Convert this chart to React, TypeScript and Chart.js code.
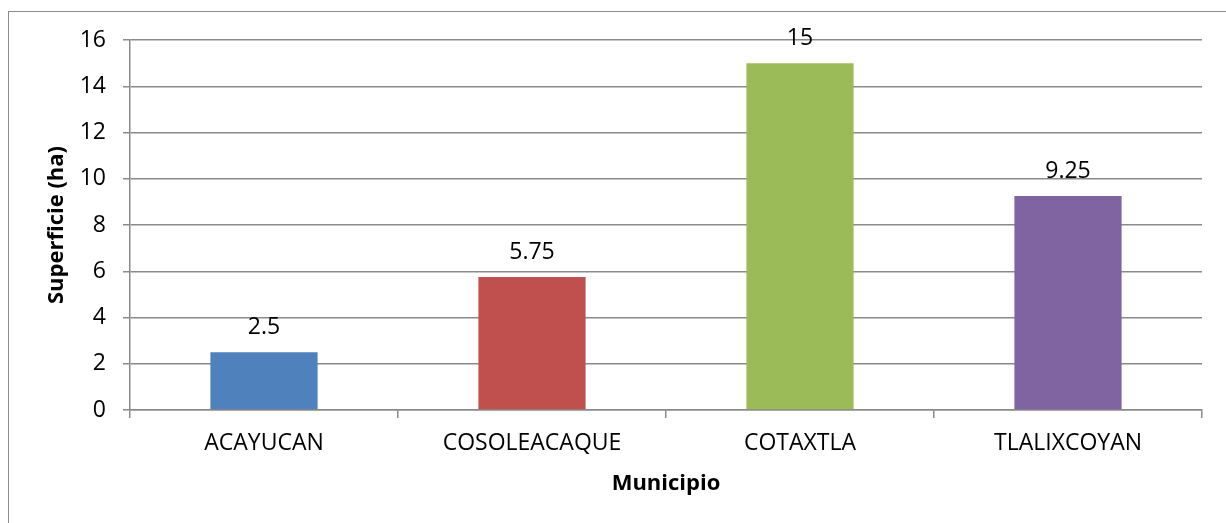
import React, { useEffect, useRef } from "react";
import { Chart, registerables } from "chart.js";

Chart.register(...registerables);

const categories = ["ACAYUCAN", "COSOLEACAQUE", "COTAXTLA", "TLALIXCOYAN"];
const values = [2.5, 5.75, 15, 9.25];
const barColors = ["#4F81BD", "#C0504D", "#9BBB59", "#8064A2"];
const yTitle = "Superficie (ha)";
const xTitle = "Municipio";
const yMin = 0;
const yMax = 16;
const yStep = 2;

const FONT = "'Open Sans', 'DejaVu Sans', sans-serif";
const GRID = "#8a8a8a";

const framePlugin = {
  id: "frame",
  beforeDraw(chart: any) {
    const ctx = chart.ctx;
    ctx.save();
    ctx.fillStyle = "#ffffff";
    ctx.fillRect(0, 0, chart.width, chart.height);
    ctx.strokeStyle = "#8c8c8c";
    ctx.lineWidth = 1;
    ctx.strokeRect(8.5, 11.5, chart.width + 20, chart.height + 20);
    ctx.restore();
  },
};

const valueLabelPlugin = {
  id: "valueLabels",
  afterDatasetsDraw(chart: any) {
    const ctx = chart.ctx;
    ctx.save();
    ctx.font = `23px ${FONT}`;
    ctx.fillStyle = "#000000";
    ctx.textAlign = "center";
    ctx.textBaseline = "alphabetic";
    chart.data.datasets.forEach((ds: any, di: number) => {
      const meta = chart.getDatasetMeta(di);
      meta.data.forEach((el: any, i: number) => {
        ctx.fillText(String(ds.data[i]), el.x, el.y - 18);
      });
    });
    ctx.restore();
  },
};

export default function App() {
  const ref = useRef<HTMLCanvasElement | null>(null);

  useEffect(() => {
    if (!ref.current) return;
    const chart = new Chart(ref.current, {
      type: "bar",
      data: {
        labels: categories,
        datasets: [
          {
            data: values,
            backgroundColor: barColors,
            borderWidth: 0,
            barPercentage: 0.4,
            categoryPercentage: 1,
          },
        ],
      },
      options: {
        responsive: false,
        animation: false,
        layout: { padding: { left: 8, right: 24, top: 40, bottom: 0 } },
        plugins: {
          legend: { display: false },
          tooltip: { enabled: false },
        },
        scales: {
          x: {
            grid: {
              display: true,
              drawOnChartArea: false,
              drawTicks: true,
              tickLength: 8,
              color: GRID,
              lineWidth: 1.5,
              offset: true,
            },
            border: { display: true, color: GRID, width: 1.5 },
            ticks: {
              color: "#000000",
              font: { family: FONT, size: 23 },
              padding: 12,
              maxRotation: 0,
              autoSkip: false,
            },
            title: {
              display: true,
              text: xTitle,
              color: "#000000",
              font: { family: FONT, size: 22, weight: "bold" },
              padding: { top: 0, bottom: 26 },
            },
            afterFit(scale: any) {
              scale.height = 113;
            },
          },
          y: {
            min: yMin,
            max: yMax,
            ticks: {
              stepSize: yStep,
              color: "#000000",
              font: { family: FONT, size: 23 },
              padding: 17,
            },
            grid: {
              color: GRID,
              lineWidth: 1.5,
              tickLength: 7,
              drawTicks: true,
            },
            border: { display: true, color: GRID, width: 1.5 },
            title: {
              display: true,
              text: yTitle,
              color: "#000000",
              font: { family: FONT, size: 22, weight: "bold" },
              padding: { top: 36, bottom: 0 },
            },
            afterFit(scale: any) {
              scale.width = 122;
            },
          },
        },
      },
      plugins: [framePlugin, valueLabelPlugin],
    });
    return () => chart.destroy();
  }, []);

  return (
    <div style={{ position: "fixed", left: 0, top: 0, width: 1226, height: 523 }}>
      <canvas ref={ref} width={1226} height={523} />
    </div>
  );
}
